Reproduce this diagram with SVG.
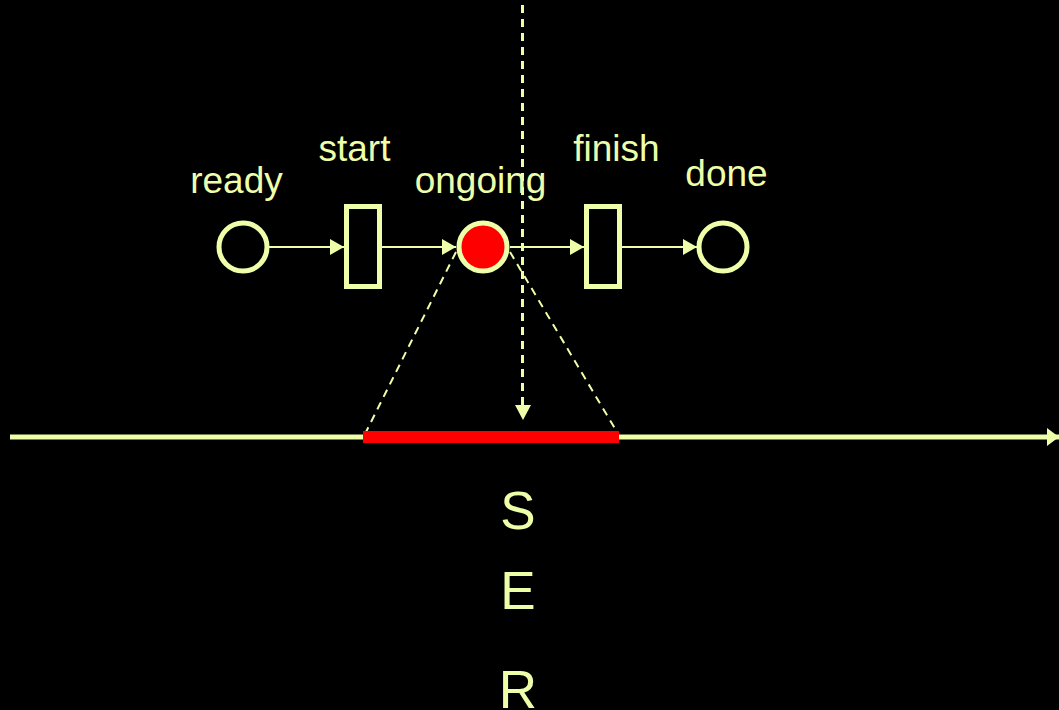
<svg xmlns="http://www.w3.org/2000/svg" width="1059" height="710" viewBox="0 0 1059 710">
<style>
.lbl{font-family:"Liberation Sans",Arial,sans-serif;font-size:37px;fill:#EEFFAA;text-anchor:middle}
.big{font-family:"Liberation Sans",Arial,sans-serif;font-size:53px;fill:#EEFFAA;text-anchor:middle}
.place{fill:none;stroke:#EEFFAA;stroke-width:5}
.trans{fill:none;stroke:#EEFFAA;stroke-width:5}
.arc{stroke:#EEFFAA;stroke-width:2;fill:none}
.dash{stroke:#EEFFAA;stroke-width:2;stroke-dasharray:8 6;fill:none}
</style>
<defs>
<marker id="ah" markerUnits="userSpaceOnUse" markerWidth="14" markerHeight="16" refX="14" refY="8" orient="auto">
<path d="M0,0 L14,8 L0,16 Z" fill="#EEFFAA"/>
</marker>
<marker id="ah3" markerUnits="userSpaceOnUse" markerWidth="12" markerHeight="20" refX="12" refY="9" orient="auto">
<path d="M0,0 L12,9 L0,18 Z" fill="#EEFFAA"/>
</marker>
</defs>
<rect width="1059" height="710" fill="#000"/>

<g id="connectors">
<line class="arc" x1="269" y1="247" x2="344" y2="247" marker-end="url(#ah)"/>
<line class="arc" x1="382" y1="247" x2="456" y2="247" marker-end="url(#ah)"/>
<line class="arc" x1="510" y1="247" x2="584" y2="247" marker-end="url(#ah)"/>
<line class="arc" x1="622" y1="247" x2="697" y2="247" marker-end="url(#ah)"/>
<line class="dash" x1="456" y1="252" x2="366" y2="432"/>
<line class="dash" x1="510" y1="252" x2="617" y2="432"/>
<line x1="522.5" y1="5" x2="522.5" y2="405" stroke="#EEFFAA" stroke-width="3" stroke-dasharray="8 6"/>
<path d="M515,405 L531,405 L523,420 Z" fill="#EEFFAA"/>
</g>

<g id="timeline">
<line x1="10" y1="437" x2="1059" y2="437" stroke="#EEFFAA" stroke-width="5" marker-end="url(#ah3)"/>
<rect x="363" y="431" width="256" height="12" fill="#FF0000"/>
</g>

<g id="ready">
<circle class="place" cx="243" cy="247" r="24"/>
<text class="lbl" x="236.5" y="193">ready</text>
</g>
<g id="start">
<rect class="trans" x="346.5" y="206.5" width="33" height="80"/>
<text class="lbl" x="354.5" y="161">start</text>
</g>
<g id="ongoing">
<circle cx="483" cy="247" r="24" fill="#FF0000" stroke="#EEFFAA" stroke-width="5"/>
<text class="lbl" x="480.5" y="193">ongoing</text>
</g>
<g id="finish">
<rect class="trans" x="586.5" y="206.5" width="33" height="80"/>
<text class="lbl" x="616.5" y="161">finish</text>
</g>
<g id="done">
<circle class="place" cx="723" cy="247" r="24"/>
<text class="lbl" x="726.5" y="186">done</text>
</g>

<g id="letters">
<text class="big" x="518" y="529">S</text>
<text class="big" x="518" y="609">E</text>
<text class="big" x="518" y="708">R</text>
</g>
</svg>
